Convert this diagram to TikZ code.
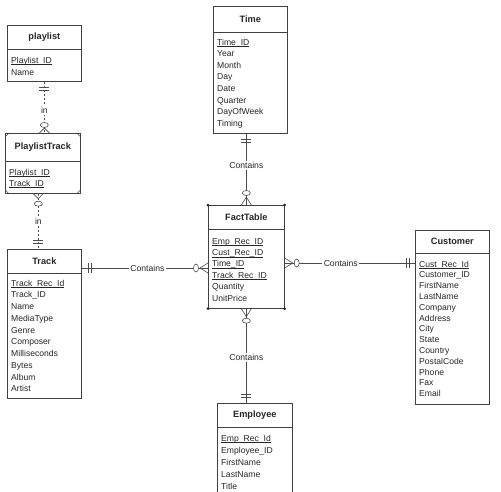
\documentclass[tikz,border=0pt]{standalone}
\usepackage{fontspec}
\setmainfont{Liberation Sans}
\usetikzlibrary{calc}

\newcommand{\pkey}[1]{\underline{\smash{#1}}}

\tikzset{
  box/.style={draw=black!75, line width=0.7pt},
  entity/.style={box, anchor=north west, inner sep=0pt},
  etitle/.style={font=\fontsize{9.2}{10}\selectfont\bfseries},
  efield/.style={anchor=base west, inner sep=0pt},
  link/.style={draw=black!70, line width=0.6pt},
  rel/.style={fill=white, inner sep=1.5pt},
}

\begin{document}
\begin{tikzpicture}[x=1pt, y=-1pt, every node/.style={font=\fontsize{8.6}{10}\selectfont, text=black!85}]
    \clip (0,0) rectangle (501,491);

    % playlist
    \node[entity, minimum width=74, minimum height=56] (playlist) at (7,25) {};
    \draw[box] (playlist.north west) ++(0,24) -- ++(74,0);
    \node[etitle] at ($(playlist.north)+(0,12)$) {playlist};
    \foreach \f [count=\i from 0] in {\pkey{Playlist\_ID}, Name}
        \node[efield] at ($(playlist.north west)+(4,38+12*\i)$) {\f};

    % PlaylistTrack
    \node[entity, minimum width=75, minimum height=60] (plt) at (5,133) {};
    \draw[box] (plt.north west) ++(0,28) -- ++(75,0);
    \node[etitle] at ($(plt.north)+(0,14)$) {PlaylistTrack};
    \foreach \f [count=\i from 0] in {\pkey{Playlist\_ID}, \pkey{Track\_ID}}
        \node[efield] at ($(plt.north west)+(4,42+11*\i)$) {\f};
    \draw[box, line width=0.5pt] (plt.north west) ++(4,0) -- ++(-4,4);
    \draw[box, line width=0.5pt] (plt.north east) ++(-4,0) -- ++(4,4);
    \draw[box, line width=0.5pt] (plt.south west) ++(4,0) -- ++(-4,-4);
    \draw[box, line width=0.5pt] (plt.south east) ++(-4,0) -- ++(4,-4);

    % Track
    \node[entity, minimum width=74, minimum height=149] (track) at (7,249) {};
    \draw[box] (track.north west) ++(0,24) -- ++(74,0);
    \node[etitle] at ($(track.north)+(0,12)$) {Track};
    \foreach \f [count=\i from 0] in {\pkey{Track\_Rec\_Id}, Track\_ID, Name, MediaType,
        Genre, Composer, Milliseconds, Bytes, Album, Artist}
        \node[efield] at ($(track.north west)+(4,37+11.75*\i)$) {\f};

    % Time
    \node[entity, minimum width=74, minimum height=127] (time) at (213,6) {};
    \draw[box] (time.north west) ++(0,26) -- ++(74,0);
    \node[etitle] at ($(time.north)+(0,13)$) {Time};
    \foreach \f [count=\i from 0] in {\pkey{Time\_ID}, Year, Month, Day, Date, Quarter,
        DayOfWeek, Timing}
        \node[efield] at ($(time.north west)+(4,39+11.6*\i)$) {\f};

    % FactTable
    \node[entity, minimum width=76, minimum height=103] (fact) at (208,205) {};
    \draw[box] (fact.north west) ++(0,24) -- ++(76,0);
    \node[etitle] at ($(fact.north)+(0,12)$) {FactTable};
    \foreach \f [count=\i from 0] in {\pkey{Emp\_Rec\_ID}, \pkey{Cust\_Rec\_ID},
        \pkey{Time\_ID}, \pkey{Track\_Rec\_ID}, Quantity, UnitPrice}
        \node[efield] at ($(fact.north west)+(4,39+11.4*\i)$) {\f};
    \foreach \c in {north west, north east, south west, south east}
        \fill[black!85] (fact.\c) circle (1.5);

    % Customer
    \node[entity, minimum width=74, minimum height=174] (cust) at (415,230) {};
    \draw[box] (cust.north west) ++(0,23) -- ++(74,0);
    \node[etitle] at ($(cust.north)+(0,11.5)$) {Customer};
    \foreach \f [count=\i from 0] in {\pkey{Cust\_Rec\_Id}, Customer\_ID, FirstName,
        LastName, Company, Address, City, State, Country, PostalCode, Phone, Fax, Email}
        \node[efield] at ($(cust.north west)+(4,37+10.8*\i)$) {\f};

    % Employee
    \node[entity, minimum width=75, minimum height=100] (emp) at (217,403) {};
    \draw[box] (emp.north west) ++(0,24) -- ++(75,0);
    \node[etitle] at ($(emp.north)+(0,12)$) {Employee};
    \foreach \f [count=\i from 0] in {\pkey{Emp\_Rec\_Id}, Employee\_ID, FirstName,
        LastName, Title}
        \node[efield] at ($(emp.north west)+(4,38+12.2*\i)$) {\f};

    % playlist -- PlaylistTrack
    \coordinate (p1) at (playlist.south |- plt.north);
    \draw[link, dash pattern=on 2pt off 2pt] (playlist.south) -- (p1) node[rel, pos=0.55] {in};
    \draw[link] (playlist.south) ++(-5,6) -- ++(10,0);
    \draw[link] (playlist.south) ++(-5,9) -- ++(10,0);
    \draw[link] (p1) ++(-5,0) -- ++(5,-5) -- ++(5,5);
    \draw[link, fill=white] (p1) ++(0,-8) ellipse (4 and 2.5);

    % PlaylistTrack -- Track
    \coordinate (p2) at ($(plt.south)+(-4.5,0)$);
    \draw[link, dash pattern=on 2pt off 2pt] (p2) -- (p2 |- track.north) node[rel, pos=0.5] {in};
    \draw[link] (p2) ++(-5,0) -- ++(5,5) -- ++(5,-5);
    \draw[link, fill=white] (p2) ++(0,10) ellipse (4 and 2.5);
    \draw[link] (p2 |- track.north) ++(-5,-9) -- ++(10,0);
    \draw[link] (p2 |- track.north) ++(-5,-6) -- ++(10,0);

    % Track -- FactTable
    \coordinate (t1) at ($(track.north east)+(0,19)$);
    \draw[link] (t1) -- (t1 -| fact.west) node[rel, pos=0.52] {Contains};
    \draw[link] (t1) ++(7,-5) -- ++(0,10);
    \draw[link] (t1) ++(10,-5) -- ++(0,10);
    \draw[link] (t1 -| fact.west) ++(0,-5) -- ++(-8,5) -- ++(8,5);
    \draw[link, fill=white] (t1 -| fact.west) ++(-12,0) ellipse (2.5 and 4);

    % Time -- FactTable
    \coordinate (t2) at (fact.north |- time.south);
    \draw[link] (t2) -- (fact.north) node[rel, pos=0.45] {Contains};
    \draw[link] (t2) ++(-5,6) -- ++(10,0);
    \draw[link] (t2) ++(-5,9) -- ++(10,0);
    \draw[link] (fact.north) ++(-5,0) -- ++(5,-8) -- ++(5,8);
    \draw[link, fill=white] (fact.north) ++(0,-12) ellipse (4 and 2.5);

    % FactTable -- Customer
    \coordinate (f1) at ($(fact.north east)+(0,58)$);
    \draw[link] (f1) -- (f1 -| cust.west) node[rel, pos=0.43] {Contains};
    \draw[link] (f1) ++(0,-5) -- ++(8,5) -- ++(-8,5);
    \draw[link, fill=white] (f1) ++(12,0) ellipse (2.5 and 4);
    \draw[link] (f1 -| cust.west) ++(-9,-5) -- ++(0,10);
    \draw[link] (f1 -| cust.west) ++(-6,-5) -- ++(0,10);

    % FactTable -- Employee
    \coordinate (e1) at (fact.south |- emp.north);
    \draw[link] (fact.south) -- (e1) node[rel, pos=0.52] {Contains};
    \draw[link] (fact.south) ++(-5,0) -- ++(5,8) -- ++(5,-8);
    \draw[link, fill=white] (fact.south) ++(0,12) ellipse (4 and 2.5);
    \draw[link] (e1) ++(-5,-9) -- ++(10,0);
    \draw[link] (e1) ++(-5,-6) -- ++(10,0);
\end{tikzpicture}
\end{document}
